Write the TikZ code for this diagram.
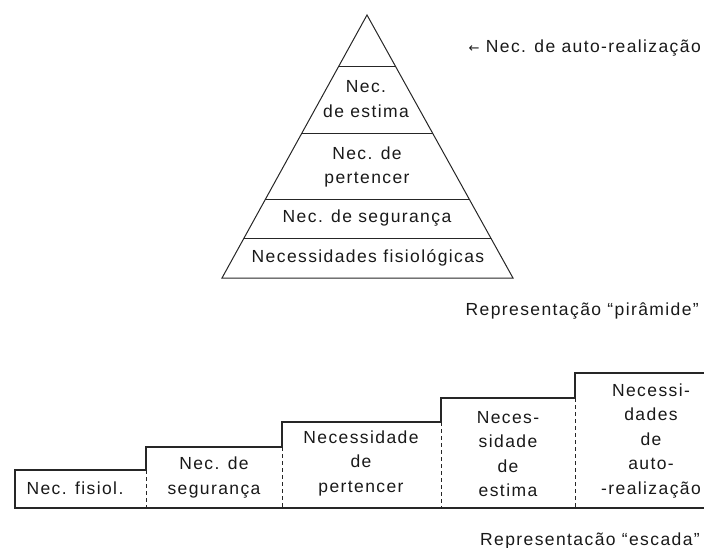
\documentclass[tikz,border=0pt]{standalone}
\usepackage{fontspec}
\setmainfont[LetterSpace=8]{Liberation Sans}
\newfontfamily\arrowfont{DejaVu Sans}
\usetikzlibrary{calc}
\begin{document}
\begin{tikzpicture}[x=1pt,y=-1pt,
  lbl/.style={font=\fontsize{17.5}{24.5}\selectfont, text=black!90, inner sep=0pt, align=center},
  edge/.style={line width=1pt, draw=black!85},
  stepline/.style={line width=1.2pt, draw=black!85},
  riser/.style={line width=1pt, dash pattern=on 4pt off 3pt, draw=black!85}]
\useasboundingbox (0,0) rectangle (704,548);
% pyramid
\coordinate (apex) at (367,15);
\coordinate (bl) at (222,278);
\coordinate (br) at (513,278);
\draw[edge] (apex) -- (bl) -- (br) -- cycle;
\foreach \t/\n in {0.1977/a,0.4487/b,0.7034/c,0.8517/d} {
  \coordinate (l\n) at ($(apex)!\t!(bl)$);
  \coordinate (r\n) at ($(apex)!\t!(br)$);
  \draw[edge] (l\n) -- (r\n);
}
\node[lbl] (estima) at (366,99) {Nec.\\de estima};
\node[lbl] (pertencer) at (367,167) {Nec. de\\pertencer};
\node[lbl] (seg) at (367,218) {Nec. de segurança};
\node[lbl] (fisio) at (368,258) {Necessidades fisiológicas};
\node[lbl, anchor=east] (auto) at (701,48) {{\arrowfont\fontsize{13}{13}\selectfont ←} Nec. de auto-realização};
\node[lbl, anchor=east] (rp) at (699,311) {Representação “pirâmide”};
% staircase
\coordinate (b0) at (15,508);
\coordinate (t0) at (15,470);
\coordinate (t1a) at (146,470); \coordinate (t1) at (146,447); \coordinate (b1) at (146,508);
\coordinate (t2a) at (282,447); \coordinate (t2) at (282,422); \coordinate (b2) at (282,508);
\coordinate (t3a) at (441,422); \coordinate (t3) at (441,398); \coordinate (b3) at (441,508);
\coordinate (t4a) at (575,398); \coordinate (t4) at (575,373); \coordinate (b4) at (575,508);
\coordinate (t5) at (704,373);
\coordinate (b5) at (704,508);
\draw[stepline] (t0) -- (t1a) -- (t1) -- (t2a) -- (t2) -- (t3a) -- (t3) -- (t4a) -- (t4) -- (t5);
\draw[stepline] (b0) -- (b5);
\draw[line width=2.2pt, draw=black!85] ($(t0)+(0,-1)$) -- ($(b0)+(0,1)$);
\draw[riser] (t1a) -- (b1);
\draw[riser] (t2a) -- (b2);
\draw[riser] (t3a) -- (b3);
\draw[riser] (t4a) -- (b4);
\node[lbl] (s1) at (75,488) {Nec. fisiol.};
\node[lbl] (s2) at (214,477.5) {Nec. de\\segurança};
\node[lbl] (s3) at (361,463) {Necessidade\\de\\pertencer};
\node[lbl] (s4) at (508,454) {Neces-\\sidade\\de\\estima};
\node[lbl] (s5) at (651,441) {Necessi-\\dades\\de\\auto-\\-realização};
\node[lbl, anchor=east] (re) at (700,541) {Representacão “escada”};
\end{tikzpicture}
\end{document}
